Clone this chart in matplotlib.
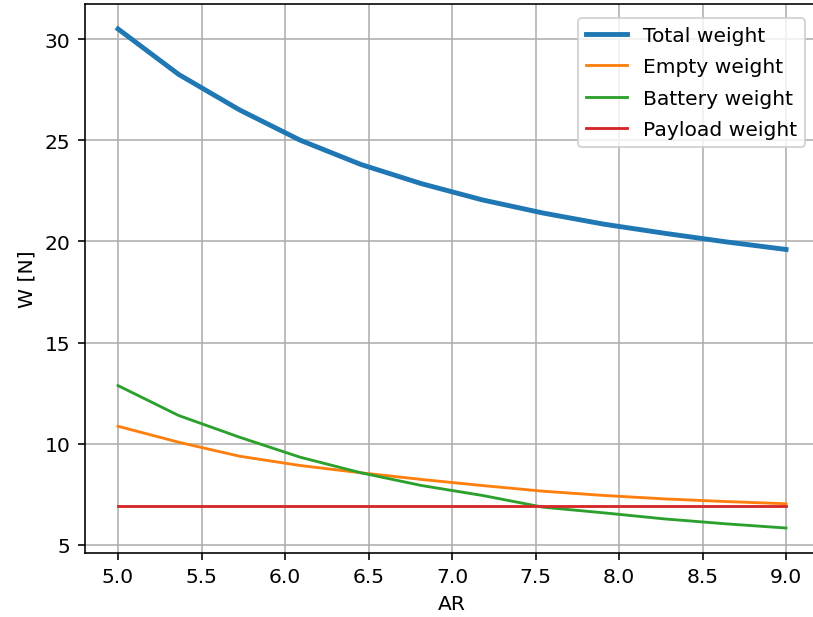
import matplotlib
matplotlib.use("Agg")
import matplotlib.pyplot as plt
import numpy as np

AR = np.linspace(5.0, 9.0, 12)
total_weight = [30.5, 28.25, 26.5, 25.0, 23.8, 22.85, 22.05, 21.4, 20.85, 20.4, 19.98, 19.6]
empty_weight = [10.86, 10.07, 9.38, 8.92, 8.56, 8.23, 7.93, 7.65, 7.44, 7.27, 7.14, 7.03]
battery_weight = [12.87, 11.39, 10.32, 9.33, 8.56, 7.93, 7.44, 6.86, 6.58, 6.28, 6.04, 5.83]
payload_weight = [6.9] * 12

DPI = 146
fig = plt.figure(figsize=(813 / DPI, 618 / DPI), dpi=DPI)
ax = fig.add_axes([0.1041, 0.1036, 0.9038, 0.8883])
ax.plot(AR, total_weight, lw=2.4, label="Total weight")
ax.plot(AR, empty_weight, lw=1.4, label="Empty weight")
ax.plot(AR, battery_weight, lw=1.4, label="Battery weight")
ax.plot(AR, payload_weight, lw=1.4, label="Payload weight")
ax.set_xlabel("AR")
ax.set_ylabel("W [N]")
ax.grid(True)
ax.legend(loc="upper right", labelspacing=0.6, borderaxespad=0.7)
fig.savefig("out.png", dpi=DPI)
